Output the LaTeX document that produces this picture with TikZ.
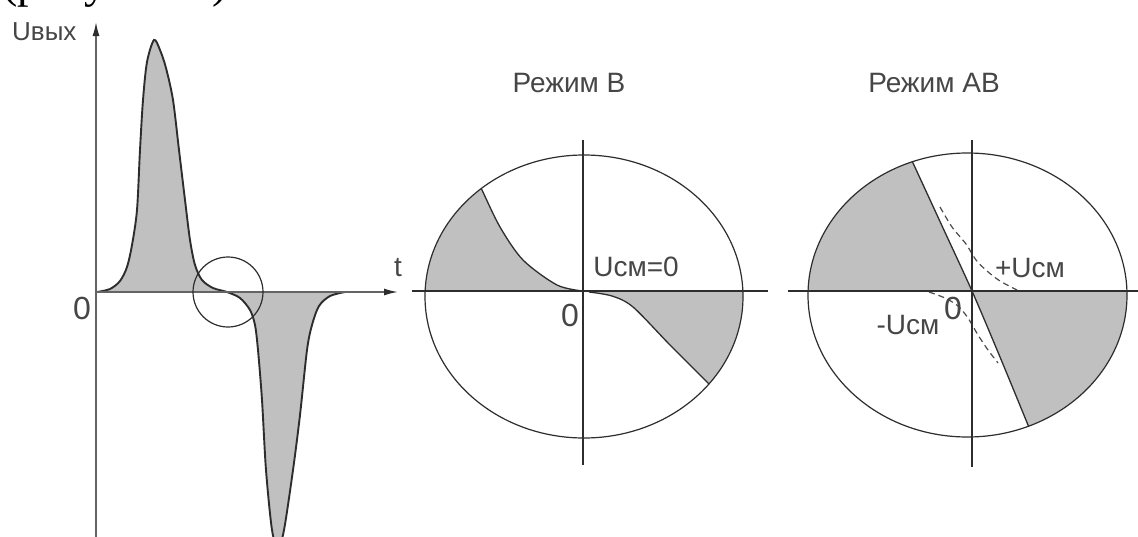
\documentclass[tikz,border=0pt]{standalone}
\usepackage{fontspec}
\setmainfont{Liberation Sans}
\newfontfamily\serifcap{Liberation Serif}
\usetikzlibrary{arrows.meta,shapes.geometric}
\definecolor{fillgray}{RGB}{192,192,192}
\definecolor{ink}{RGB}{45,45,45}
\definecolor{lblc}{RGB}{70,70,70}
\definecolor{axisc}{RGB}{100,100,100}
\begin{document}
\begin{tikzpicture}[x=1pt,y=-1pt,
  lbl/.style={text=lblc,inner sep=0pt,font=\fontsize{28}{28}\selectfont},
  zero/.style={text=lblc,inner sep=0pt,font=\fontsize{32}{32}\selectfont},
  axis/.style={draw=axisc,line width=1.6pt},
  thinaxis/.style={draw=ink,line width=1.2pt},
  curve/.style={draw=ink,line width=1.3pt},
  wave/.style={draw=ink,line width=1.9pt},
  dashcurve/.style={draw=ink!85,line width=1.2pt,dash pattern=on 6pt off 4pt},
  tip/.style={-{Latex[length=14pt,width=7pt,fill=ink,color=ink]}}]
\useasboundingbox (0,0) rectangle (1138,536);
\clip (0,0) rectangle (1138,536);
\fill[white] (0,0) rectangle (1138,536);
% clipped caption line at the top
\node[font=\serifcap\fontsize{46}{46}\selectfont, anchor=base west, inner sep=0pt] (cap) at (2,-3) {(рисунок 4)};

% ---------- left: output pulse ----------
\def\pulse{(97,292) (110,289) (120,281) (127,267) (132,245) (137,210) (140,150) (143,100) (147,62) (154,40)
  (160,50) (166,68) (173,100) (179,150) (185,200) (190,240) (195,265) (202,280) (213,288) (227,292)
  (240,298) (250,310) (255,325) (258,350) (262,400) (266,470) (272,530) (278,548)
  (284,530) (293,470) (300,415) (307,350) (312,325) (319,306) (330,296) (345,292)}
\fill[fillgray] plot[smooth,tension=0.5] coordinates {\pulse} -- cycle;
\draw[wave] plot[smooth,tension=0.5] coordinates {\pulse};
\coordinate (yb) at (96,540);
\coordinate (yt) at (96,22);
\coordinate (xo) at (96,292);
\coordinate (xe) at (398,292);
\draw[axis,tip] (yb) -- (yt);
\draw[axis,tip] (xo) -- (xe);
\node[draw=ink,line width=1.2pt,circle,minimum size=70pt,inner sep=0pt] (ring) at (228,292) {};
\node[text=lblc,inner sep=0pt,font=\fontsize{26}{26}\selectfont,anchor=west] (uout) at (12,32) {Uвых};
\node[text=lblc,inner sep=0pt,font=\fontsize{28}{28}\selectfont] (tl) at (398,268) {t};
\node[zero] (z0) at (82,308) {0};

% ---------- middle: mode B ----------
\coordinate (O1) at (583,291);
\begin{scope}
  \clip (584,296.5) ellipse [x radius=159pt, y radius=141.5pt];
  \fill[fillgray] plot[smooth] coordinates {(583,291) (557,285) (523,260) (500,227) (482,190) (476,178)}
     -- (380,178) -- (380,291) -- cycle;
  \fill[fillgray] plot[smooth] coordinates {(583,291) (612,296) (633,307) (670,345) (708,383) (716,391)}
     -- (800,391) -- (800,291) -- cycle;
  \draw[curve] plot[smooth] coordinates {(583,291) (557,285) (523,260) (500,227) (482,190) (476,178)};
  \draw[curve] plot[smooth] coordinates {(589,292) (612,296) (633,307) (670,345) (708,383) (716,391)};
\end{scope}
\node[draw=ink,line width=1.2pt,ellipse,minimum width=318pt,minimum height=283pt,inner sep=0pt] (ellB) at (584,296.5) {};
\coordinate (b1) at (412,291); \coordinate (b2) at (768,291);
\coordinate (b3) at (583,140); \coordinate (b4) at (583,465);
\draw[thinaxis] (b1) -- (b2);
\draw[thinaxis] (b3) -- (b4);
\node[lbl] (tB) at (569,83) {Режим В};
\node[lbl] (u0) at (636,267) {Uсм=0};
\node[zero] (zB) at (570,315) {0};

% ---------- right: mode AB ----------
\begin{scope}
  \clip (967.5,295) ellipse [x radius=159.5pt, y radius=142pt];
  \fill[fillgray] plot[smooth] coordinates {(972,291) (943,228) (913,163) (905,146)}
     -- (780,146) -- (780,291) -- cycle;
  \fill[fillgray] plot[smooth] coordinates {(972,291) (1000,357) (1028,425) (1034,440)}
     -- (1140,440) -- (1140,291) -- cycle;
  \draw[curve] plot[smooth] coordinates {(905,146) (913,163) (943,228) (972,291) (1000,357) (1028,425) (1034,440)};
\end{scope}
\draw[dashcurve] plot[smooth] coordinates {(940,207) (952,227) (966,244) (976,260) (987,271) (1000,281) (1017,290)};
\draw[dashcurve] plot[smooth] coordinates {(929,292) (945,298) (958,306) (968,318) (978,335) (988,350) (998,363)};
\node[draw=ink,line width=1.2pt,ellipse,minimum width=319pt,minimum height=284pt,inner sep=0pt] (ellAB) at (967.5,295) {};
\coordinate (c1) at (788,291); \coordinate (c2) at (1140,291);
\coordinate (c3) at (972,140); \coordinate (c4) at (972,467);
\draw[thinaxis] (c1) -- (c2);
\draw[thinaxis] (c3) -- (c4);
\node[lbl] (tAB) at (934,83) {Режим АВ};
\node[lbl] (up) at (1030,268) {+Uсм};
\node[lbl] (um) at (908,325) {-Uсм};
\node[zero] (zAB) at (953,308) {0};
\end{tikzpicture}
\end{document}
